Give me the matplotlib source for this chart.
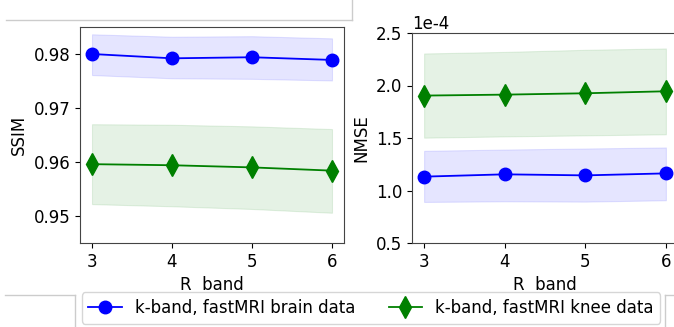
import matplotlib
matplotlib.use("Agg")
import matplotlib.pyplot as plt
from matplotlib.lines import Line2D
from matplotlib.ticker import ScalarFormatter

plt.rcParams['axes.unicode_minus'] = False
plt.rcParams['font.size'] = 12

r_band = [3, 4, 5, 6]

ssim_brain = [0.9800, 0.9792, 0.9794, 0.9789]
ssim_brain_hi = [0.98365, 0.9832, 0.9833, 0.9829]
ssim_brain_lo = [0.9761, 0.9755, 0.9754, 0.9751]

ssim_knee = [0.9596, 0.9594, 0.9590, 0.9584]
ssim_knee_hi = [0.9670, 0.9669, 0.9666, 0.9661]
ssim_knee_lo = [0.9522, 0.9518, 0.9513, 0.9506]

nmse_brain = [1.132e-4, 1.154e-4, 1.144e-4, 1.163e-4]
nmse_brain_hi = [1.378e-4, 1.39e-4, 1.40e-4, 1.41e-4]
nmse_brain_lo = [0.891e-4, 0.897e-4, 0.894e-4, 0.907e-4]

nmse_knee = [1.904e-4, 1.913e-4, 1.926e-4, 1.945e-4]
nmse_knee_hi = [2.305e-4, 2.32e-4, 2.34e-4, 2.353e-4]
nmse_knee_lo = [1.503e-4, 1.515e-4, 1.525e-4, 1.535e-4]

label_brain = "k-band, fastMRI brain data"
label_knee = "k-band, fastMRI knee data"

W, H = 674, 327
fig = plt.figure(figsize=(W / 100, H / 100), dpi=100)

ax1 = fig.add_axes([80 / W, 1 - 243 / H, (344 - 80) / W, (243 - 27) / H])
ax2 = fig.add_axes([412 / W, 1 - 243 / H, (678 - 412) / W, (243 - 33) / H])

def draw(ax, yb, ybl, ybh, yk, ykl, ykh):
    ax.fill_between(r_band, ybl, ybh, color='blue', alpha=0.1, linewidth=0.8)
    ax.fill_between(r_band, ykl, ykh, color='green', alpha=0.1, linewidth=0.8)
    lb, = ax.plot(r_band, yb, color='blue', marker='o', markersize=9, linewidth=1.3, label=label_brain)
    lk, = ax.plot(r_band, yk, color='green', marker='d', markersize=11, linewidth=1.3, label=label_knee)
    ax.set_xticks(r_band)
    ax.set_xlim(2.85, 6.15)
    ax.set_xlabel("R  band")
    for s in ax.spines.values():
        s.set_color('#444444')
    return lb, lk

lb, lk = draw(ax1, ssim_brain, ssim_brain_lo, ssim_brain_hi, ssim_knee, ssim_knee_lo, ssim_knee_hi)
ax1.set_ylim(0.945, 0.985)
ax1.set_yticks([0.95, 0.96, 0.97, 0.98])
ax1.set_ylabel("SSIM")

draw(ax2, nmse_brain, nmse_brain_lo, nmse_brain_hi, nmse_knee, nmse_knee_lo, nmse_knee_hi)
ax2.set_ylim(0.5e-4, 2.5e-4)
ax2.set_yticks([0.5e-4, 1.0e-4, 1.5e-4, 2.0e-4, 2.5e-4])
fmt = ScalarFormatter(useMathText=False)
fmt.set_powerlimits((0, 0))
ax2.yaxis.set_major_formatter(fmt)
ax2.set_ylabel("NMSE")

fig.legend(handles=[lb, lk], loc='center', bbox_to_anchor=(371 / W, 1 - 308 / H),
           ncol=2, frameon=True, fontsize=12, handlelength=2.0, columnspacing=2.0)

# fragments of neighbouring panels' boxes
gray = '#cccccc'
def fl(xs, ys):
    fig.add_artist(Line2D([x / W for x in xs], [1 - y / H for y in ys], color=gray, linewidth=1.0))
fl([6, 352], [20, 20])
fl([352, 352], [0, 20])
fl([5, 75], [295, 295])
fl([75, 75], [295, 327])
fl([665, 674], [295, 295])
fl([665, 665], [295, 327])

fig.savefig("out.png", dpi=100)
